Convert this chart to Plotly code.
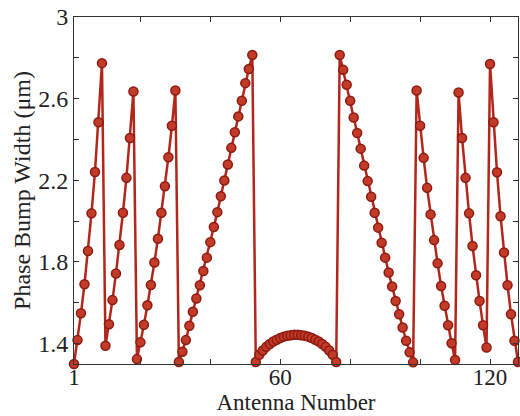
import plotly.graph_objects as go

# Antenna index 1..128
antenna = list(range(1, 129))

# Phase bump width (um), segment by segment
seg1 = [1.300, 1.417, 1.549, 1.691, 1.854, 2.038, 2.241, 2.484, 2.774]              # 1-9
seg2 = [1.389, 1.495, 1.613, 1.743, 1.883, 2.041, 2.212, 2.407, 2.635]              # 10-18
seg3 = [1.324, 1.406, 1.492, 1.588, 1.687, 1.797, 1.914, 2.041, 2.171, 2.313,
        2.467, 2.640]                                                                # 19-30
seg4 = [1.310, 1.360, 1.417, 1.487, 1.556, 1.621, 1.686, 1.756, 1.821, 1.897,
        1.971, 2.044, 2.122, 2.199, 2.277, 2.359, 2.435, 2.513, 2.590, 2.676,
        2.745, 2.814]                                                                # 31-52
arc = [1.310, 1.345, 1.366, 1.384, 1.398, 1.410, 1.419, 1.427, 1.434, 1.438,
       1.441, 1.443, 1.443, 1.441, 1.438, 1.434, 1.427, 1.419, 1.410, 1.398,
       1.384, 1.366, 1.345, 1.310]                                                   # 53-76
seg6 = [2.814, 2.741, 2.668, 2.590, 2.508, 2.432, 2.355, 2.272, 2.196, 2.119,
        2.041, 1.968, 1.894, 1.821, 1.748, 1.680, 1.609, 1.544, 1.479, 1.414,
        1.357, 1.308]                                                                # 77-98
seg7 = [2.640, 2.467, 2.310, 2.163, 2.033, 1.907, 1.793, 1.682, 1.585, 1.490,
        1.402, 1.320]                                                                # 99-110
seg8 = [2.630, 2.407, 2.212, 2.038, 1.878, 1.735, 1.609, 1.490, 1.381]              # 111-119
seg9 = [2.770, 2.484, 2.239, 2.024, 1.846, 1.686, 1.544, 1.414, 1.310]              # 120-128

width = seg1 + seg2 + seg3 + seg4 + arc + seg6 + seg7 + seg8 + seg9

x_tickvals = [1, 20, 40, 60, 80, 100, 120]
x_ticktext = ["1", "", "", "60", "", "", "120"]
y_tickvals = [1.4, 1.6, 1.8, 2.0, 2.2, 2.4, 2.6, 2.8, 3.0]
y_ticktext = ["1.4", "", "1.8", "", "2.2", "", "2.6", "", "3"]

line_col = "#b3261c"

fig = go.Figure()
fig.add_trace(go.Scatter(
    x=antenna, y=width, mode="lines+markers",
    line=dict(color=line_col, width=2.5),
    marker=dict(symbol="circle", size=9, color="#c23a28",
                line=dict(color="#8e1a10", width=1.5)),
    cliponaxis=False, showlegend=False,
))

font_family = "Liberation Serif, Times New Roman, serif"
axis_common = dict(
    showline=True, linecolor="#333333", linewidth=1, mirror="ticks",
    ticks="inside", ticklen=5, tickcolor="#333333", tickwidth=1,
    showgrid=False, zeroline=False,
)

fig.update_layout(
    width=520, height=416,
    margin=dict(l=74, r=2, t=17, b=52),
    paper_bgcolor="white", plot_bgcolor="white",
    font=dict(family=font_family, size=24, color="#222222"),
    xaxis=dict(range=[1, 128], tickmode="array", tickvals=x_tickvals,
               ticktext=x_ticktext, ticklabelstandoff=-8,
               tickfont=dict(family=font_family, size=23, color="#222222"),
               title=dict(text="Antenna Number", standoff=0,
                          font=dict(family=font_family, size=23, color="#222222")),
               **axis_common),
    yaxis=dict(range=[1.3, 3.0], tickmode="array", tickvals=y_tickvals,
               ticktext=y_ticktext,
               tickfont=dict(family=font_family, size=24, color="#222222"),
               title=dict(text="Phase Bump Width (μm)", standoff=0,
                          font=dict(family=font_family, size=24, color="#222222")),
               **axis_common),
)

fig.write_html("out.html")
